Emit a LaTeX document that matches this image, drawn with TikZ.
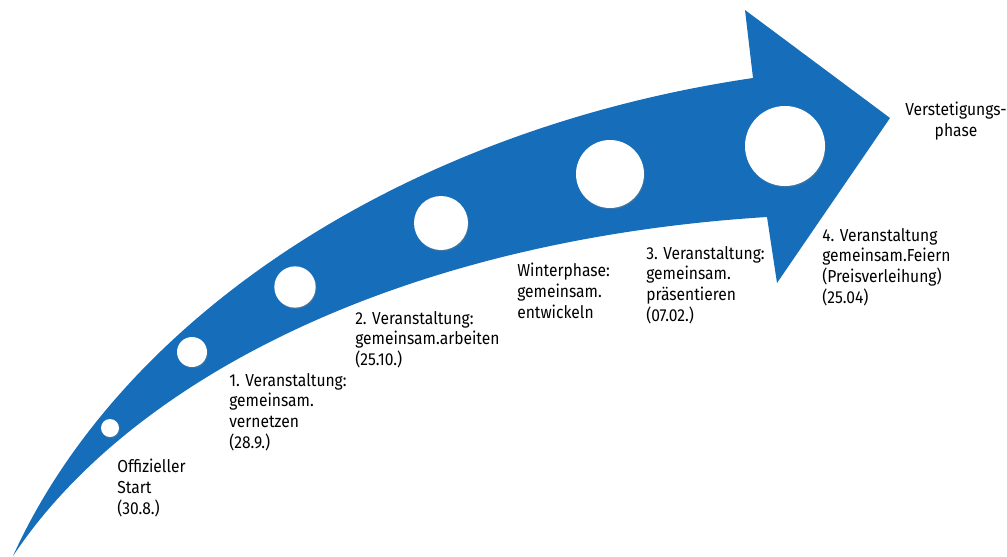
\documentclass[tikz,border=0pt]{standalone}
\usepackage{fontspec}
\setmainfont[FakeStretch=0.9]{Fira Sans}
\usetikzlibrary{shadows}
\definecolor{arrowblue}{RGB}{22,110,186}

\begin{document}
\begin{tikzpicture}[x=0.75pt,y=-0.75pt,
    milestone/.style={circle,fill=white,inner sep=0pt,
      drop shadow={opacity=0.35,shadow xshift=0.6pt,shadow yshift=-1pt}},
    lbl/.style={anchor=north west,align=left,inner sep=0pt,
      font=\fontsize{13}{15.5}\selectfont}]
      \useasboundingbox (0,0) rectangle (1007,557);
      \fill[arrowblue] (13,556) .. controls (120,320) and (400,130) .. (753,78)
        -- (745,10) -- (890,118) -- (777,283) -- (767,217)
        .. controls (400,240) and (130,380) .. (13,556) -- cycle;
      \node[milestone, minimum size=13.5pt] (m1) at (110,428) {};
      \node[milestone, minimum size=22.5pt] (m2) at (192,352) {};
      \node[milestone, minimum size=31pt]   (m3) at (295,287) {};
      \node[milestone, minimum size=40.5pt] (m4) at (441,223) {};
      \node[milestone, minimum size=51pt]   (m5) at (610,174) {};
      \node[milestone, minimum size=60pt]   (m6) at (785,146) {};
      \node[lbl] (start) at (117,459) {Offizieller\\Start\\(30.8.)};
      \node[lbl] (va1) at (229,373) {1. Veranstaltung:\\gemeinsam.\\vernetzen\\(28.9.)};
      \node[lbl] (va2) at (355,311) {2. Veranstaltung:\\gemeinsam.arbeiten\\(25.10.)};
      \node[lbl] (winter) at (517,263) {Winterphase:\\gemeinsam.\\entwickeln};
      \node[lbl] (va3) at (646,246) {3. Veranstaltung:\\gemeinsam.\\präsentieren\\(07.02.)};
      \node[lbl] (va4) at (822,228) {4. Veranstaltung\\gemeinsam.Feiern\\(Preisverleihung)\\(25.04)};
      \node[lbl, anchor=center, align=center] (vst) at (956,121) {Verstetigungs-\\phase};
    \end{tikzpicture}
\end{document}
